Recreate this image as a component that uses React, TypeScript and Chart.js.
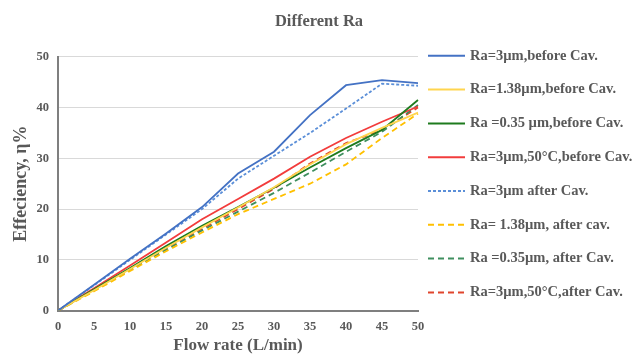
import React, { useEffect, useRef } from "react";
import { Chart, registerables } from "chart.js";

Chart.register(...registerables);

const flowRate = ["0", "5", "10", "15", "20", "25", "30", "35", "40", "45", "50"];
const yTicks = [0, 10, 20, 30, 40, 50];

const ra3Before = [0, 5.1, 10.2, 15.2, 20.4, 27.0, 31.3, 38.5, 44.4, 45.4, 44.8];
const ra138Before = [0, 4.0, 8.2, 12.4, 16.4, 20.3, 24.3, 28.8, 32.8, 36.0, 39.0];
const ra035Before = [0, 4.2, 8.4, 12.7, 16.7, 20.4, 24.2, 28.2, 32.0, 35.6, 41.5];
const ra3HotBefore = [0, 4.4, 8.9, 13.4, 18.0, 22.0, 26.0, 30.3, 34.0, 37.2, 40.2];
const ra3After = [0, 5.0, 10.0, 15.0, 20.0, 26.0, 30.5, 35.0, 39.8, 44.7, 44.3];
const ra138After = [0, 3.8, 7.8, 11.7, 15.4, 19.0, 22.0, 25.0, 28.8, 34.0, 38.8];
const ra035After = [0, 4.0, 8.0, 12.0, 15.8, 19.5, 23.2, 27.2, 31.3, 35.2, 40.5];
const ra3HotAfter = [0, 4.1, 8.1, 12.3, 16.1, 20.0, 24.0, 29.0, 33.0, 35.6, 40.0];

const labels = [
  "Ra=3µm,before Cav.",
  "Ra=1.38µm,before Cav.",
  "Ra =0.35 µm,before Cav.",
  "Ra=3µm,50°C,before Cav.",
  "Ra=3µm after Cav.",
  "Ra= 1.38µm, after cav.",
  "Ra =0.35µm, after Cav.",
  "Ra=3µm,50°C,after Cav.",
];

const series = [ra3Before, ra138Before, ra035Before, ra3HotBefore, ra3After, ra138After, ra035After, ra3HotAfter];
const colors = ["#4472C4", "#FFD54F", "#1E7B1E", "#F23C3C", "#5B8FD8", "#FFC000", "#3F8F5F", "#E0452C"];
const dashes: number[][] = [[], [], [], [], [3, 2], [6, 4], [6, 4], [6, 4]];

const textColor = "#595959";
const serif = "'Liberation Serif', 'Times New Roman', serif";

const legendPlugin = {
  id: "customLegend",
  afterDraw(chart: any) {
    const ctx = chart.ctx;
    const x0 = chart.chartArea.right + 10;
    const y0 = chart.chartArea.top - 1;
    const step = 33.8;
    ctx.save();
    chart.data.datasets.forEach((ds: any, i: number) => {
      const y = y0 + i * step;
      ctx.beginPath();
      ctx.strokeStyle = ds.borderColor;
      ctx.lineWidth = 2;
      ctx.setLineDash(ds.borderDash || []);
      ctx.moveTo(x0, y);
      ctx.lineTo(x0 + 37, y);
      ctx.stroke();
      ctx.setLineDash([]);
      ctx.fillStyle = textColor;
      ctx.font = `bold 14.5px ${serif}`;
      ctx.textBaseline = "middle";
      ctx.textAlign = "left";
      ctx.fillText(ds.label, x0 + 42, y);
    });
    ctx.restore();
  },
};

export default function App() {
  const ref = useRef<HTMLCanvasElement | null>(null);

  useEffect(() => {
    document.body.style.margin = "0";
    const canvas = ref.current;
    if (!canvas) return;
    const chart = new Chart(canvas, {
      type: "line",
      data: {
        labels: flowRate,
        datasets: series.map((d, i) => ({
          label: labels[i],
          data: d,
          borderColor: colors[i],
          backgroundColor: colors[i],
          borderDash: dashes[i],
          borderWidth: 1.8,
          pointRadius: 0,
          tension: 0,
          fill: false,
          yAxisID: "y",
        })),
      },
      options: {
        responsive: false,
        animation: false,
        layout: { padding: { left: 4, right: 0, top: 0, bottom: 0 } },
        plugins: {
          legend: { display: false },
          tooltip: { enabled: false },
          title: {
            display: true,
            text: "Different Ra",
            color: textColor,
            font: { family: serif, size: 16.5, weight: "bold" },
            padding: { top: 12, bottom: 25 },
          },
        },
        scales: {
          x: {
            offset: false,
            grid: { display: false, drawTicks: false },
            border: { display: true, color: "#7f7f7f", width: 2 },
            ticks: {
              color: textColor,
              font: { family: serif, size: 12.5, weight: "bold" },
              padding: 9,
              maxRotation: 0,
              autoSkip: false,
            },
            title: {
              display: true,
              text: "Flow rate (L/min)",
              color: textColor,
              font: { family: serif, size: 17, weight: "bold" },
              padding: { top: -8, bottom: 0 },
            },
          },
          y: {
            min: 0,
            max: 50,
            afterBuildTicks: (axis: any) => {
              axis.ticks = yTicks.map((v) => ({ value: v }));
            },
            grid: { color: "#d9d9d9", lineWidth: 1, drawTicks: false },
            border: { display: true, color: "#7f7f7f", width: 2 },
            ticks: {
              color: textColor,
              font: { family: serif, size: 12.5, weight: "bold" },
              padding: 9,
            },
            title: {
              display: true,
              text: "Effeciency, η%",
              color: textColor,
              font: { family: serif, size: 18, weight: "bold" },
              padding: { top: 7, bottom: -5 },
            },
          },
          legendSpace: {
            type: "linear",
            position: "right",
            display: true,
            grid: { display: false, drawTicks: false },
            border: { display: false },
            ticks: { display: false },
            afterFit: (scale: any) => {
              scale.width = 216;
            },
          },
        },
      },
      plugins: [legendPlugin],
    } as any);
    return () => chart.destroy();
  }, []);

  return <canvas ref={ref} width={634} height={356} style={{ display: "block" }} />;
}
